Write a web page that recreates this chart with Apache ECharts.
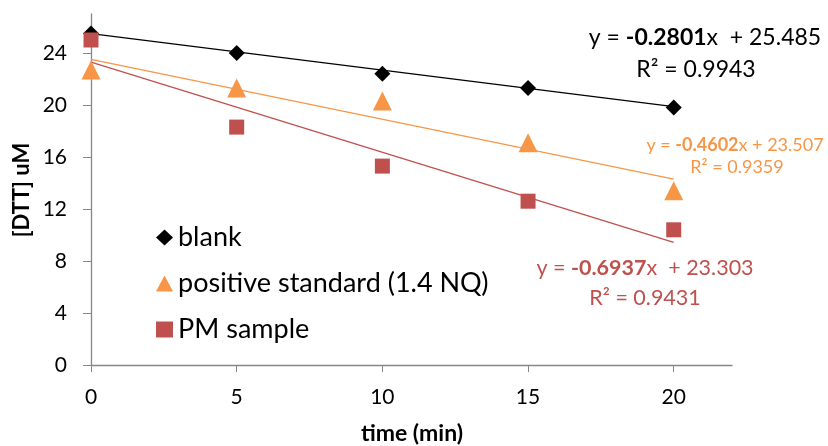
<!DOCTYPE html>
<html><head><meta charset="utf-8">
<script src="https://cdn.jsdelivr.net/npm/echarts@6/dist/echarts.min.js"></script>
<style>html,body{margin:0;padding:0;background:#fff}#c{width:828px;height:446px}</style>
</head><body><div id="c"></div>
<script>
const times = [0, 5, 10, 15, 20];
const blank = [25.5, 24.0, 22.4, 21.3, 19.8];
const positive = [22.7, 21.3, 20.3, 17.1, 13.4];
const pmSample = [25.0, 18.3, 15.3, 12.6, 10.4];
const seriesNames = ['blank', 'positive standard (1.4 NQ)', 'PM sample'];
const slopes = [-0.2801, -0.4602, -0.6937];
const intercepts = [25.485, 23.507, 23.303];
const r2 = ['0.9943', '0.9359', '0.9431'];
const xTicks = [0, 5, 10, 15, 20];
const yTicks = [0, 4, 8, 12, 16, 20, 24];
const xTitle = 'time (min)';
const yTitle = '[DTT] uM';

const colors = ['#000000', '#F79646', '#C0504D'];
const symbols = ['diamond', 'triangle', 'rect'];
const symSizes = [16, 19, 15];
const FONT = 'Lato';
const values = [blank, positive, pmSample];

const chart = echarts.init(document.getElementById('c'));
const series = [];
values.forEach((vals, i) => {
  series.push({
    name: seriesNames[i], type: 'line', lineStyle: {width: 0, opacity: 0},
    symbol: symbols[i], symbolSize: symSizes[i], itemStyle: {color: colors[i]},
    data: times.map((t, k) => [t, vals[k]]), z: 5, silent: true
  });
  series.push({
    name: 'trend' + i, type: 'line', symbol: 'none',
    lineStyle: {width: 1.3, color: colors[i]},
    data: [times[0], times[times.length - 1]].map(t => [t, intercepts[i] + slopes[i] * t]),
    z: 3, silent: true
  });
});

function eqText(i, size, cx, y, cx2, gap, sep) {
  return [
    {type: 'text', x: cx, y: y, style: {
      text: '{a|y = }{b|' + slopes[i].toFixed(4) + '}{a|x' + sep + '+ ' + intercepts[i].toFixed(3) + '}',
      align: 'center', verticalAlign: 'middle',
      rich: {a: {fontFamily: FONT, fontSize: size, fill: colors[i]},
             b: {fontFamily: FONT, fontSize: size, fontWeight: 'bold', fill: colors[i]}}
    }},
    {type: 'text', x: cx2, y: y + gap, style: {
      text: 'R² = ' + r2[i], align: 'center', verticalAlign: 'middle',
      fontFamily: FONT, fontSize: size, fill: colors[i]
    }}
  ];
}

chart.setOption({
  animation: false,
  textStyle: {fontFamily: FONT},
  grid: {left: 91, right: 96, top: 14, bottom: 81, containLabel: false},
  legend: {
    orient: 'vertical', left: 151, top: 219, itemGap: 19,
    data: seriesNames.map((n, i) => ({name: n, icon: symbols[i], itemStyle: {color: colors[i]}})),
    itemWidth: 17, itemHeight: 16,
    textStyle: {fontFamily: FONT, fontSize: 27, color: '#000'}
  },
  xAxis: {
    type: 'value', min: 0, max: 22,
    axisLine: {lineStyle: {color: '#868686', width: 1.3}},
    axisTick: {show: true, customValues: xTicks, length: 7, lineStyle: {color: '#868686'}},
    axisLabel: {customValues: xTicks, fontFamily: FONT, fontSize: 21, color: '#000', margin: 22},
    splitLine: {show: false}
  },
  yAxis: {
    type: 'value', min: 0, max: 27,
    axisLine: {show: true, lineStyle: {color: '#868686', width: 1.3}},
    axisTick: {show: true, customValues: yTicks, length: 8, lineStyle: {color: '#868686'}},
    axisLabel: {customValues: yTicks, fontFamily: FONT, fontSize: 21, color: '#000', margin: 24},
    splitLine: {show: false}
  },
  series: series,
  graphic: [].concat(
    eqText(0, 23, 705, 38, 696, 32, '  '),
    eqText(1, 18, 735, 145, 737, 22, ' '),
    eqText(2, 21.5, 645, 268, 645, 30, '  '),
    [
      {type: 'text', x: 412, y: 434, style: {text: xTitle, align: 'center', verticalAlign: 'middle',
        fontFamily: FONT, fontSize: 23, fontWeight: 'bold', fill: '#000'}},
      {type: 'text', x: 22, y: 190, rotation: Math.PI / 2, style: {text: yTitle, align: 'center', verticalAlign: 'middle',
        fontFamily: FONT, fontSize: 22, fontWeight: 'bold', fill: '#000'}}
    ])
});
</script></body></html>
